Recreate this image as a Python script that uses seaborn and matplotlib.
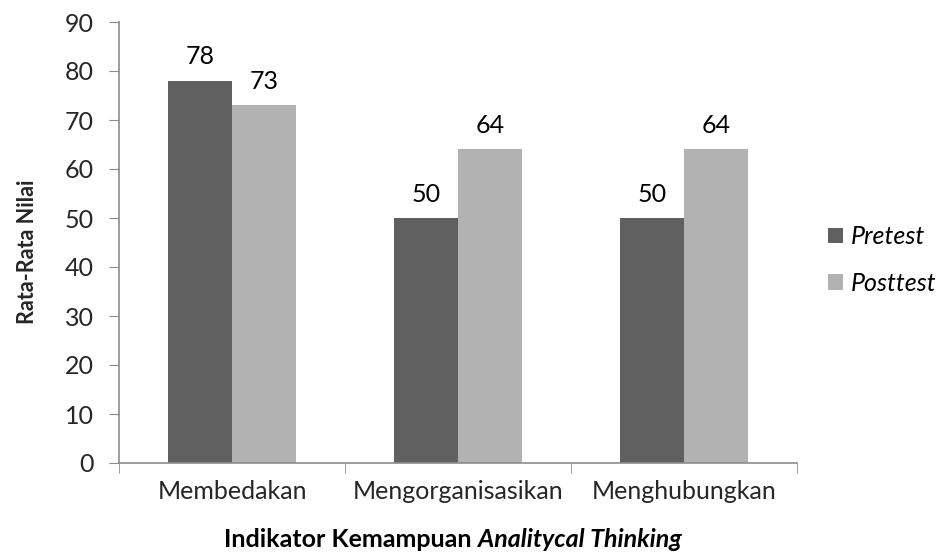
import matplotlib
matplotlib.use("Agg")
import matplotlib.pyplot as plt
import pandas as pd
import seaborn as sns

# Data
indikator = ['Membedakan', 'Mengorganisasikan', 'Menghubungkan']
pretest = [78, 50, 50]
posttest = [73, 64, 64]
series = ['Pretest', 'Posttest']

sns.set_style("white")
plt.rcParams['font.family'] = ['Lato', 'DejaVu Sans']
plt.rcParams['font.size'] = 18
plt.rcParams['text.color'] = '#000000'

df = pd.DataFrame({
    'Indikator': indikator * 2,
    'Nilai': pretest + posttest,
    'Tes': [series[0]] * 3 + [series[1]] * 3,
})

fig = plt.figure(figsize=(9.41, 5.54), dpi=100)
ax = fig.add_axes([119 / 941, 1 - 463 / 554, (797 - 119) / 941, (463 - 22) / 554])

sns.barplot(data=df, x='Indikator', y='Nilai', hue='Tes', order=indikator,
            hue_order=series, palette=['#606060', '#b2b2b2'], width=0.567,
            saturation=1, ax=ax, errorbar=None, linewidth=0)

for c in ax.containers:
    ax.bar_label(c, fmt='%d', padding=9, fontsize=18)

ax.set_ylim(0, 90)
ax.set_yticks(range(0, 91, 10))
ax.set_xlim(-0.5, 2.5)
ax.set_xticks([0, 1, 2])
ax.set_xticklabels(indikator)
ax.set_xticks([-0.5, 0.5, 1.5, 2.5], minor=True)
ax.tick_params(axis='x', which='major', length=0, pad=12, labelsize=18)
ax.tick_params(axis='x', which='minor', length=7, color='#8c8c8c', direction='out')
ax.tick_params(axis='y', length=7, color='#8c8c8c', direction='out', labelsize=18, pad=11)
ax.xaxis.set_ticks_position('bottom')
ax.yaxis.set_ticks_position('left')

for s in ['top', 'right']:
    ax.spines[s].set_visible(False)
for s in ['left', 'bottom']:
    ax.spines[s].set_color('#8c8c8c')
    ax.spines[s].set_linewidth(1.2)

ax.set_ylabel('Rata-Rata Nilai', fontweight='bold', fontsize=15.5)
ax.yaxis.set_label_coords((38 - 119) / 678, (463 - 252) / 441)
ax.set_xlabel('')

# x label with italic part
fig.canvas.draw()
r = fig.canvas.get_renderer()
ybase = 1 - 547 / 554
t1 = fig.text(0, ybase, 'Indikator Kemampuan ', fontweight='bold', fontsize=18,
              ha='left', va='baseline')
t2 = fig.text(0, ybase, 'Analitycal Thinking', fontweight='bold', style='italic',
              fontsize=18, ha='left', va='baseline')
w1 = t1.get_window_extent(r).width
w2 = t2.get_window_extent(r).width
x0 = 453 - (w1 + w2) / 2
t1.set_x(x0 / 941)
t2.set_x((x0 + w1) / 941)

leg = ax.legend(loc='center left', bbox_to_anchor=(1.009, 0.46), frameon=False,
                handlelength=0.6, handleheight=0.6, handletextpad=0.3,
                labelspacing=0.95, borderaxespad=0.6,
                prop={'style': 'italic', 'size': 18})
leg.set_title(None)

fig.savefig('out.png', dpi=100)
